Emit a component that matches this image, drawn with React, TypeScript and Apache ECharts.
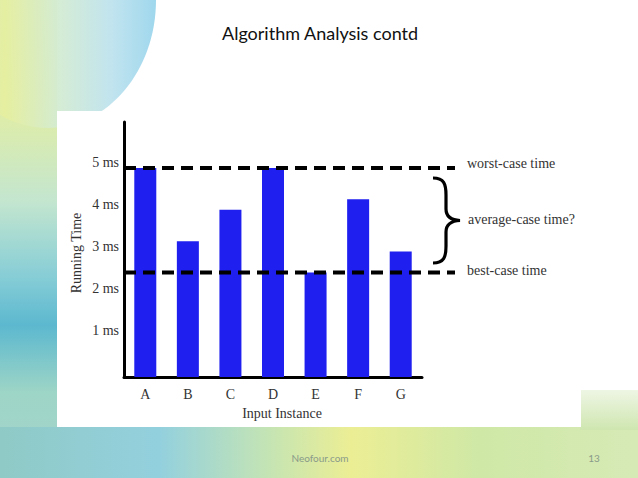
import React, { useEffect, useRef } from "react";
import * as echarts from "echarts";

const categories = ["A", "B", "C", "D", "E", "F", "G"];
const runningTimes = [5, 3.25, 4, 5, 2.5, 4.25, 3];
const yTickValues = [1, 2, 3, 4, 5];
const worstCase = 5;
const bestCase = 2.5;
const worstLabel = "worst-case time";
const bestLabel = "best-case time";
const averageLabel = "average-case time?";
const titleText = "Algorithm Analysis contd";
const xAxisName = "Input Instance";
const yAxisName = "Running Time";
const footerText = "Neofour.com";
const pageNumber = "13";

const BRACE =
  "M0,0 C11,0 13,6 13,17 L13,31 C13,38 17,42 27,42.5 C17,43 13,47 13,54 L13,68 C13,79 11,85 0,85";

let registered = false;

export default function App() {
  const ref = useRef<HTMLDivElement>(null);
  useEffect(() => {
    if (!registered) {
      echarts.graphic.registerShape("brace", echarts.graphic.extendPath(BRACE, {}));
      registered = true;
    }
    const chart = echarts.init(ref.current!, null, { renderer: "svg" });
    const serif = "Liberation Serif";
    const lin = (x: number, y: number, x2: number, y2: number, stops: [number, string][]) =>
      new echarts.graphic.LinearGradient(x, y, x2, y2, stops.map(([offset, color]) => ({ offset, color })));
    const option: any = {
      animation: false,
      backgroundColor: "#ffffff",
      graphic: [
        {
          type: "rect", z: -10, shape: { x: 0, y: 0, width: 57, height: 478 },
          style: {
            fill: lin(0, 0, 0, 1, [
              [0, "#d4ebd8"], [0.2, "#e4ee9f"], [0.42, "#c4e6cf"], [0.58, "#86cdd6"],
              [0.68, "#5cb8cf"], [0.82, "#9dd5c6"], [1, "#a6d3cf"],
            ]),
          },
        },
        {
          type: "ellipse", z: -9, shape: { cx: 48, cy: 0, rx: 108, ry: 128 },
          style: {
            fill: lin(0, 0, 1, 0, [
              [0, "#d0e9d8"], [0.3, "#e6ef9f"], [0.55, "#d3ebd2"], [0.8, "#bde2ee"], [1, "#9ad5ec"],
            ]),
            opacity: 0.95,
          },
        },
        {
          type: "rect", z: -8, shape: { x: 0, y: 427, width: 638, height: 51 },
          style: {
            fill: lin(0, 0, 1, 0, [
              [0, "#8fcac6"], [0.25, "#93d0de"], [0.42, "#c4e4b4"], [0.55, "#ecee94"],
              [0.75, "#cfe8a6"], [1, "#d6eab6"],
            ]),
          },
        },
        {
          type: "rect", z: -8, shape: { x: 580, y: 390, width: 58, height: 40 },
          style: { fill: lin(0, 0, 0, 1, [[0, "#eef6e4"], [1, "#cfe6b0"]]) },
        },
        {
          type: "rect", z: -5, shape: { x: 57, y: 111, width: 524, height: 316 },
          style: { fill: "#ffffff" },
        },
        {
          type: "text", z: 10, x: 222, y: 33,
          style: { text: titleText, font: "18px Lato", fill: "#111", verticalAlign: "middle" },
        },
        {
          type: "text", z: 10, x: 76, y: 253, rotation: Math.PI / 2,
          style: { text: yAxisName, font: `14px ${serif}`, fill: "#333", align: "center", verticalAlign: "middle" },
        },
        {
          type: "text", z: 10, x: 282, y: 413,
          style: { text: xAxisName, font: `14px ${serif}`, fill: "#333", align: "center", verticalAlign: "middle" },
        },
        {
          type: "text", z: 10, x: 468, y: 219,
          style: { text: averageLabel, font: `14px ${serif}`, fill: "#333", verticalAlign: "middle" },
        },
        {
          type: "brace", z: 10, x: 433, y: 178,
          style: { stroke: "#000", fill: "none", lineWidth: 3.2 },
        },
        {
          type: "text", z: 10, x: 320, y: 458,
          style: { text: footerText, font: "10px Lato", fill: "#8a9a8a", align: "center", verticalAlign: "middle" },
        },
        {
          type: "text", z: 10, x: 594, y: 458,
          style: { text: pageNumber, font: "10px Lato", fill: "#8a9a8a", align: "center", verticalAlign: "middle" },
        },
      ],
      grid: [
        { left: 124, right: 216, top: 122, bottom: 101 },
        { left: 124, right: 183, top: 122, bottom: 101 },
      ],
      xAxis: [
        {
          type: "category", gridIndex: 0, data: categories, boundaryGap: true,
          axisLine: { lineStyle: { color: "#000", width: 3 } },
          axisTick: { show: false },
          axisLabel: { color: "#333", fontSize: 14, fontFamily: serif, margin: 10 },
        },
        { type: "value", gridIndex: 1, min: 0, max: 1, show: false },
      ],
      yAxis: [
        {
          type: "value", gridIndex: 0, min: 0, max: 6.1, interval: 1,
          axisLine: { show: true, lineStyle: { color: "#000", width: 3 } },
          axisTick: { show: false },
          splitLine: { show: false },
          axisLabel: {
            color: "#333", fontSize: 14, fontFamily: serif, margin: 5,
            verticalAlign: "bottom", lineHeight: 10,
            formatter: (v: number) => (yTickValues.includes(v) ? `${v} ms` : ""),
          },
        },
        { type: "value", gridIndex: 1, min: 0, max: 6.1, show: false },
      ],
      series: [
        {
          type: "bar", xAxisIndex: 0, yAxisIndex: 0, data: runningTimes,
          barWidth: 22, itemStyle: { color: "#1f1ff0" }, z: 2,
        },
        {
          type: "line", xAxisIndex: 1, yAxisIndex: 1, z: 5,
          data: [[0, worstCase], [1, worstCase]], showSymbol: false, symbol: "none",
          lineStyle: { color: "#000", width: 4, type: [12, 7] },
          endLabel: {
            show: true, formatter: worstLabel, distance: 12, offset: [0, -4],
            color: "#333", fontSize: 14, fontFamily: serif,
          },
        },
        {
          type: "line", xAxisIndex: 1, yAxisIndex: 1, z: 5,
          data: [[0, bestCase], [1, bestCase]], showSymbol: false, symbol: "none",
          lineStyle: { color: "#000", width: 4, type: [12, 7] },
          endLabel: {
            show: true, formatter: bestLabel, distance: 12, offset: [0, -2],
            color: "#333", fontSize: 14, fontFamily: serif,
          },
        },
      ],
    };
    chart.setOption(option);
    return () => chart.dispose();
  }, []);
  return (
    <div
      ref={ref}
      style={{ position: "absolute", left: 0, top: 0, width: 638, height: 478 }}
    />
  );
}
